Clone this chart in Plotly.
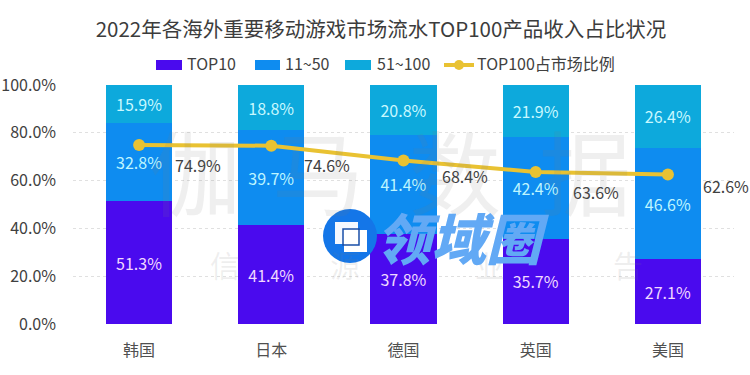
import plotly.graph_objects as go

FONT = "Noto Sans CJK SC"
categories = ["韩国", "日本", "德国", "英国", "美国"]
top10 = [51.3, 41.4, 37.8, 35.7, 27.1]
mid = [32.8, 39.7, 41.4, 42.4, 46.6]
tail = [15.9, 18.8, 20.8, 21.9, 26.4]
share = [74.9, 74.6, 68.4, 63.6, 62.6]
tick_vals = [0, 20, 40, 60, 80, 100]
tick_text = ["0.0%", "20.0%", "40.0%", "60.0%", "80.0%", "100.0%"]
title = "2022年各海外重要移动游戏市场流水TOP100产品收入占比状况"
label_dx = [59, 56, 61, 60, 58]
label_dy = [-20, -19, -15, -20, -12]
W, H = 750, 375
L, R, T, B = 73, 734, 85, 324

def px(x): return (x - L) / (R - L)
def py(y): return (B - y) / (B - T)

fig = go.Figure()
for name, vals, col, tc in [("TOP10", top10, "#4A0AEE", "#F0D8FF"),
                            ("11~50", mid, "#0E8CF0", "#BDF5FF"),
                            ("51~100", tail, "#0DA9DC", "#C8F8FF")]:
    fig.add_bar(x=categories, y=vals, name=name, marker=dict(color=col, line_width=0),
                text=[f"{v:.1f}%" for v in vals], textposition="inside", insidetextanchor="middle",
                textangle=0, constraintext="none", textfont=dict(color=tc, size=16, family=FONT))
fig.add_scatter(x=categories, y=share, name="TOP100占市场比例", mode="lines+markers",
                line=dict(color="#E9C232", width=4), marker=dict(color="#E9C232", size=12))

ann = []
for c, v, dx, dy in zip(categories, share, label_dx, label_dy):
    ann.append(dict(x=c, y=v, xref="x", yref="y", text=f"{v:.1f}%", showarrow=False, xshift=dx, yshift=dy,
                    xanchor="center", yanchor="middle", font=dict(size=16, color="#404040", family=FONT)))
# watermark
for t, x, y, s, op in [("伽", 195, 168, 92, .12), ("马", 318, 168, 92, .12), ("数", 455, 168, 92, .12), ("据", 585, 168, 92, .12),
                       ("信", 225, 264, 30, .12), ("源", 345, 264, 30, .12), ("业", 490, 264, 30, .12), ("告", 628, 264, 30, .12)]:
    ann.append(dict(x=px(x), y=py(y), xref="paper", yref="paper", text=t, showarrow=False,
                    xanchor="center", yanchor="middle",
                    font=dict(size=s, color=f"rgba(120,120,120,{op})", family=FONT)))
# logo wordmark
ann.append(dict(x=px(462), y=py(236), xref="paper", yref="paper", text="<i>领域圈</i>", showarrow=False,
                xanchor="center", yanchor="middle", font=dict(size=55, color="#62A9F5", family=FONT, weight=900)))
# legend labels
for t, x in [("TOP10", 185), ("11~50", 283), ("51~100", 375), ("TOP100占市场比例", 475)]:
    ann.append(dict(x=px(x), y=py(63), xref="paper", yref="paper", xanchor="left", yanchor="middle", text=t,
                    showarrow=False, font=dict(size=16, color="#404040", family=FONT)))

def rect(x0, x1, y0, y1, c):
    return dict(type="rect", xref="paper", yref="paper", x0=px(x0), x1=px(x1), y0=py(y1), y1=py(y0),
                fillcolor=c, line_width=0)

shapes = [rect(156, 182, 60, 70, "#4A0AEE"), rect(255, 280, 60, 70, "#0E8CF0"), rect(345, 371, 60, 70, "#0DA9DC"),
          dict(type="line", xref="paper", yref="paper", x0=px(444), x1=px(474), y0=py(65), y1=py(65),
               line=dict(color="#E9C232", width=4)),
          dict(type="circle", xref="paper", yref="paper", x0=px(454), x1=px(464), y0=py(70), y1=py(60),
               fillcolor="#E9C232", line_width=0),
          # logo badge
          dict(type="circle", xref="paper", yref="paper", x0=px(323), x1=px(377), y0=py(263), y1=py(209),
               fillcolor="#1476E8", line_width=0),
          rect(335, 358, 222, 244, "#F4F8FF"), rect(344, 367, 230, 252, "#FFFFFF"),
          dict(type="rect", xref="paper", yref="paper", x0=px(343), x1=px(359), y0=py(245), y1=py(229),
               line=dict(color="#1A4FA8", width=1.5))]

fig.update_layout(
    width=W, height=H, barmode="stack", bargap=0.5, showlegend=False,
    margin=dict(l=L, r=W - R, t=T, b=H - B), plot_bgcolor="#FFFFFF", paper_bgcolor="#FFFFFF",
    font=dict(family=FONT, color="#404040"),
    title=dict(text=title, x=381 / W, xanchor="center", y=1 - 30 / H, yanchor="middle",
               font=dict(size=20.5, color="#3C3C3C", family=FONT)),
    xaxis=dict(range=[-0.5, 4.5], tickfont=dict(size=16, color="#505050"), showline=False, ticks="", showgrid=False,
               ticklabelstandoff=15),
    yaxis=dict(range=[0, 100], tickvals=tick_vals, ticktext=tick_text, tickfont=dict(size=16, color="#404040"),
               gridcolor="#E0E0E0", griddash="dot", gridwidth=1, zeroline=False, ticks="", automargin=False,
               ticklabelstandoff=16),
    annotations=ann, shapes=shapes,
)
fig.write_html("out.html", config={"displayModeBar": False},
               post_script="document.body.style.margin='0';document.body.style.overflow='hidden';")
